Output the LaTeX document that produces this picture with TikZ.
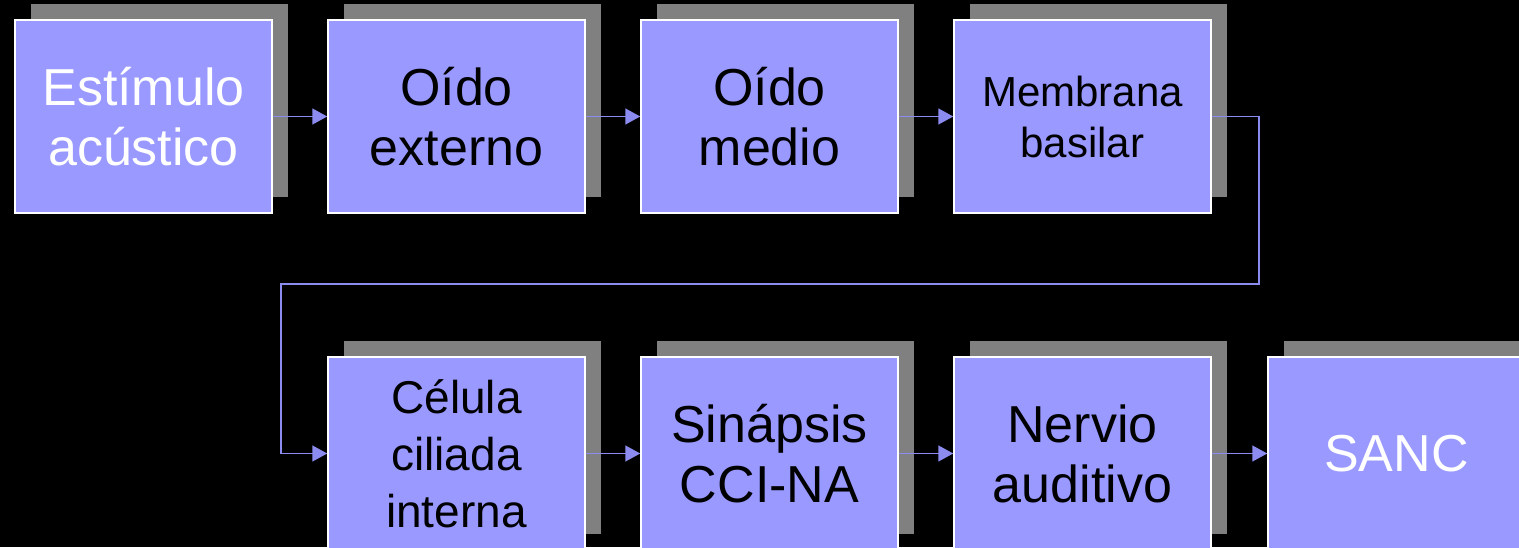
\documentclass[tikz,border=0pt]{standalone}
\usepackage{fontspec}
\setmainfont{Liberation Sans}
\usetikzlibrary{arrows.meta,shadows}
\definecolor{boxfill}{HTML}{9999FF}
\definecolor{shade}{HTML}{808080}
\definecolor{arrcol}{HTML}{8C8CF0}
\tikzset{
  blk/.style={rectangle, minimum width=257pt, minimum height=193pt, draw=white, line width=1.5pt, fill=boxfill, align=center, text=black,
    general shadow={shadow xshift=16pt, shadow yshift=16pt, fill=shade, draw=none}},
  big/.style={font=\fontsize{52}{60}\selectfont},
  mid/.style={font=\fontsize{42}{51}\selectfont},
  cel/.style={font=\fontsize{46}{57}\selectfont},
  arr/.style={draw=arrcol, line width=1.5pt, -{Triangle[length=15pt,width=16pt]}}
}
\begin{document}
\begin{tikzpicture}[x=1pt,y=1pt]
\useasboundingbox (0,0) rectangle (1519,547);
\fill[black] (0,0) rectangle (1519,547);
\clip (0,0) rectangle (1519,547);
\node[blk,big,text=white] (a1) at (143.5,430.5) {Estímulo\\acústico};
\node[blk,big] (a2) at (456.5,430.5) {Oído\\externo};
\node[blk,big] (a3) at (769.5,430.5) {Oído\\medio};
\node[blk,mid] (a4) at (1082.5,430.5) {Membrana\\basilar};
\node[blk,cel] (c1) at (456.5,93.5) {Célula\\ciliada\\interna};
\node[blk,big] (c2) at (769.5,93.5) {Sinápsis\\CCI-NA};
\node[blk,big] (c3) at (1082.5,93.5) {Nervio\\auditivo};
\node[blk,big,text=white] (c4) at (1396.5,93.5) {SANC};
\coordinate (r1) at (1259,263);
\coordinate (r2) at (281,263);
\draw[arr] (a1.east) -- (a2.west);
\draw[arr] (a2.east) -- (a3.west);
\draw[arr] (a3.east) -- (a4.west);
\draw[arr] (a4.east) -| (r1) -- (r2) |- (c1.west);
\draw[arr] (c1.east) -- (c2.west);
\draw[arr] (c2.east) -- (c3.west);
\draw[arr] (c3.east) -- (c4.west);
\end{tikzpicture}
\end{document}
